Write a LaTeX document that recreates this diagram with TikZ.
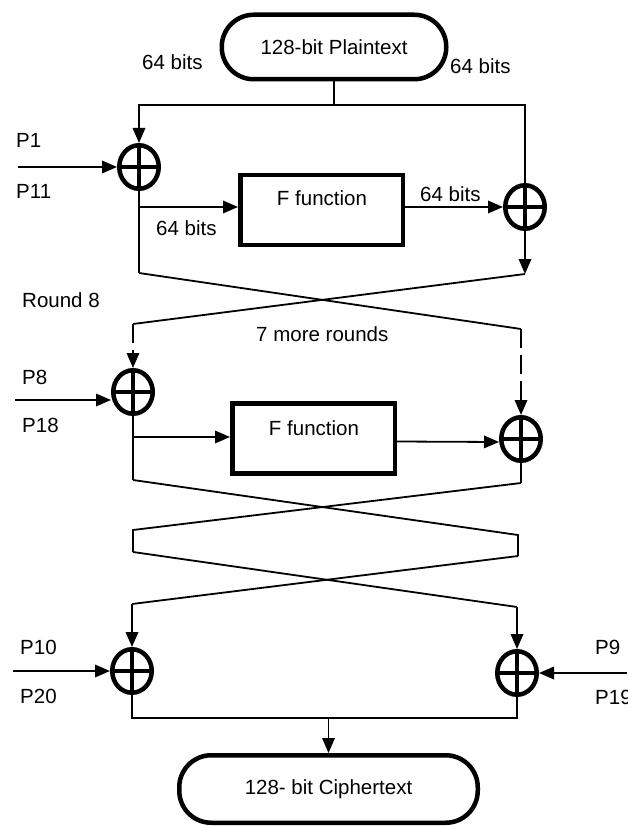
\documentclass[tikz,border=0pt]{standalone}
\usepackage{fontspec}
\setmainfont{Liberation Sans}
\usetikzlibrary{shapes.geometric,arrows.meta}
\newcommand\myfs{\fontsize{20.5}{24}\selectfont}
\begin{document}
\begin{tikzpicture}[x=1pt,y=-1pt,
  conn/.style={line width=1.8pt},
  arr/.style={conn,-{Triangle[length=15pt,width=12.5pt]}},
  dasharr/.style={arr,dash pattern=on 19pt off 7pt},
  xor/.style={ellipse,draw,line width=4.5pt,minimum width=39.5pt,minimum height=43.5pt,inner sep=0pt,
    path picture={\draw[line width=3.5pt]
      (path picture bounding box.north) -- (path picture bounding box.south)
      (path picture bounding box.west) -- (path picture bounding box.east);}},
  term/.style={draw,line width=4.5pt,rounded corners=32pt,inner sep=0pt,font=\myfs},
  fbox/.style={draw,line width=4.5pt,inner sep=0pt,minimum width=162.5pt,minimum height=70pt},
  lbl/.style={inner sep=0pt,font=\myfs},
]
\useasboundingbox (0,0) rectangle (627,826);

% terminals
\node[term,minimum width=224.5pt,minimum height=64.5pt] (pt) at (334,47) {128-bit Plaintext};
\node[term,minimum width=298.5pt,minimum height=67.5pt] (ct) at (328.5,789) {128- bit Ciphertext};

% F boxes
\node[fbox] (f1) at (321.5,210) {};
\node[fbox] (f2) at (313.5,438.5) {};
\node[lbl,anchor=base] (f1t) at (322,206) {F function};
\node[lbl,anchor=base] (f2t) at (314,435) {F function};

% XORs
\node[xor] (x1) at (139,167) {};
\node[xor] (x2) at (525,207) {};
\node[xor] (x3) at (133,392) {};
\node[xor] (x4) at (521,439) {};
\node[xor] (x5) at (132,671) {};
\node[xor] (x6) at (517,673) {};

% labels
\node[lbl,anchor=base west] (l64a) at (142,70) {64 bits};
\node[lbl,anchor=base west] (l64b) at (450,74) {64 bits};
\node[lbl,anchor=base west] (lp1) at (16,148) {P1};
\node[lbl,anchor=base west] (lp11) at (16,199) {P11};
\node[lbl,anchor=base west] (l64c) at (156,236) {64 bits};
\node[lbl,anchor=base west] (l64d) at (420,202) {64 bits};
\node[lbl,anchor=base west] (lr8) at (22,307) {Round 8};
\node[lbl,anchor=base west] (l7) at (256,341) {7 more rounds};
\node[lbl,anchor=base west] (lp8) at (22,384) {P8};
\node[lbl,anchor=base west] (lp18) at (22,432) {P18};
\node[lbl,anchor=base west] (lp10) at (20,654) {P10};
\node[lbl,anchor=base west] (lp20) at (20,703) {P20};
\node[lbl,anchor=base west] (lp9) at (595,654) {P9};
\node[lbl,anchor=base west] (lp19) at (595,704) {P19};

% coordinates
\coordinate (top) at (334,105);
\coordinate (p1s) at (18,167);
\coordinate (b1) at (139,207);
\coordinate (c1a) at (139,273);
\coordinate (c1b) at (525,274);
\coordinate (c1c) at (521,329);
\coordinate (c1d) at (133,324);
\coordinate (p8s) at (15,400);
\coordinate (b3) at (133,437);
\coordinate (c2a) at (133,480);
\coordinate (c2b) at (521,483);
\coordinate (c2c) at (518,535);
\coordinate (c2d) at (133,530);
\coordinate (c3a) at (133,552);
\coordinate (c3b) at (518,556);
\coordinate (c3c) at (517,607);
\coordinate (c3d) at (132,604);
\coordinate (p10s) at (13,671);
\coordinate (p9s) at (627,673);
\coordinate (bl) at (132,718);
\coordinate (br) at (517,718);
\coordinate (bm) at (328.5,718);

% round 1
\draw[conn] (pt.south) -- (top);
\draw[arr] (top) -| (x1.north);
\draw[conn] (top) -| (x2.north);
\draw[arr] (p1s) -- (x1.west);
\draw[conn] (x1.south) -- (c1a);
\draw[arr] (b1) -- (b1 -| f1.west);
\draw[arr] (x2.west -| f1.east) -- (x2.west);
\draw[arr] (x2.south) -- (c1b);
\draw[conn] (c1a) -- (c1c);
\draw[conn] (c1b) -- (c1d);
\draw[dasharr] (c1d) -- (x3.north);
\draw[dasharr] (c1c) -- (x4.north);

% round 8
\draw[arr] (p8s) -- (p8s -| x3.west);
\draw[conn] (x3.south) -- (c2a);
\draw[arr] (b3) -- (b3 -| f2.west);
\draw[arr] ([yshift=-3pt]f2.east) -- ([yshift=-3pt]x4.west);
\draw[conn] (x4.south) -- (c2b);
\draw[conn] (c2a) -- (c2c) -- (c3b);
\draw[conn] (c2b) -- (c2d) -- (c3a);
\draw[conn] (c3a) -- (c3c);
\draw[conn] (c3b) -- (c3d);
\draw[arr] (c3d) -- (x5.north);
\draw[arr] (c3c) -- (x6.north);

% final
\draw[arr] (p10s) -- (x5.west);
\draw[arr] (p9s) -- (x6.east);
\draw[conn] (x5.south) -- (bl) -- (br) -- (x6.south);
\draw[arr] (bm) -- (ct.north);
\end{tikzpicture}
\end{document}
